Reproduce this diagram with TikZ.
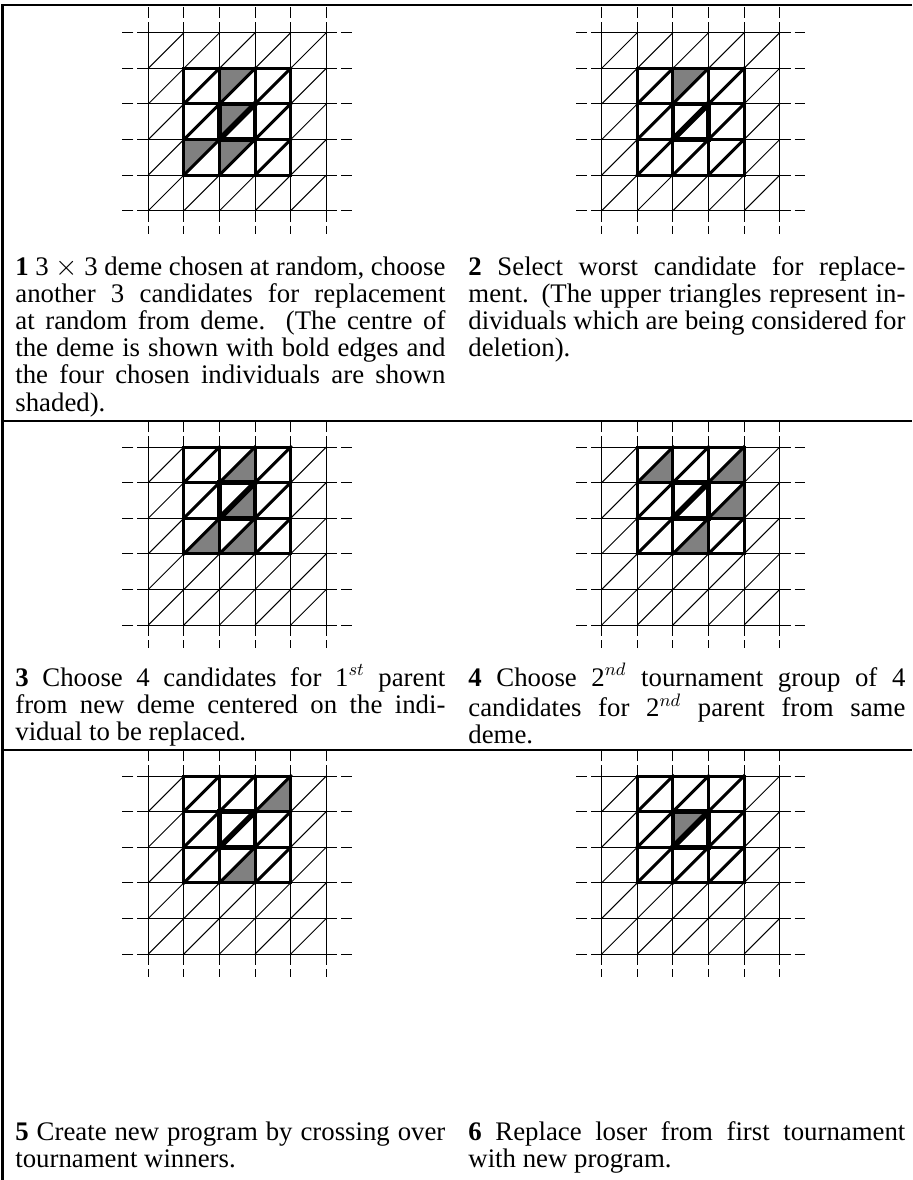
\documentclass[tikz,border=0pt]{standalone}
\usepackage{fontspec}
\setmainfont{Liberation Serif}
\newcommand{\capfont}{\fontsize{13.4}{13.6}\selectfont\tolerance=9999\hyphenpenalty=10000}
% one 5x5 population grid; #3 = top row of the deme, #4 = shaded cells col/row/side
\newcommand{\demepanel}[4]{%
  \begin{scope}[shift={(#1,#2)}, x=17.8pt, y=-17.8pt]
    \foreach \ci/\cj/\side in {#4}{
      \if u\side
        \fill[shade] (\ci,\cj) -- ++(1,0) -- ++(-1,1) -- cycle;
      \else
        \fill[shade] (\ci+1,\cj) -- ++(0,1) -- ++(-1,0) -- cycle;
      \fi}
    \foreach \k in {0,...,5}{
      \draw[thin line] (\k,0) -- (\k,5);
      \draw[thin line] (0,\k) -- (5,\k);
      \draw[stub] (\k,0) -- (\k,-0.76);
      \draw[stub] (\k,5) -- (\k,5.65);
      \draw[stub] (0,\k) -- (-0.74,\k);
      \draw[stub] (5,\k) -- (5.72,\k);}
    \foreach \ci in {0,...,4}
      \foreach \cj in {0,...,4}
        \draw[thin line] (\ci,\cj+1) -- (\ci+1,\cj);
    \draw[deme line] (1,#3) rectangle (4,#3+3);
    \foreach \k in {1,2}{
      \draw[deme line] (\k+1,#3) -- (\k+1,#3+3);
      \draw[deme line] (1,#3+\k) -- (4,#3+\k);}
    \foreach \ci in {1,2,3}
      \foreach \cj in {0,1,2}
        \draw[deme line] (\ci,#3+\cj+1) -- (\ci+1,#3+\cj);
    \draw[centre line] (2,#3+1) rectangle (3,#3+2);
    \draw[centre line, line width=2.8pt] (2,#3+2) -- (3,#3+1);
  \end{scope}}

\begin{document}
\begin{tikzpicture}[x=0.5pt, y=-0.5pt,
    thin line/.style={line width=0.5pt},
    stub/.style={line width=0.5pt, dash pattern=on 5.5pt off 2pt},
    deme line/.style={line width=1.5pt, line cap=rect},
    centre line/.style={line width=2.3pt, line cap=rect},
    shade/.style={fill=gray},
    rule/.style={line width=1.4pt},
    caption/.style={anchor=base west, inner sep=0pt, align=justify, font=\capfont}
  ]
  \useasboundingbox (0,0) rectangle (912,1180);
  \draw[rule] (1.8,5) -- (912,5);
  \draw[rule] (2.5,4.3) -- (2.5,1180);
  \draw[rule] (2.5,421) -- (912,421);
  \draw[rule] (2.5,750) -- (912,750);

  \demepanel{148.3}{32.7}{1}{2/1/u, 2/2/u, 1/3/u, 2/3/u}
  \demepanel{601.7}{32.7}{1}{2/1/u}
  \demepanel{148.3}{447}{0}{2/0/l, 2/1/l, 1/2/l, 2/2/l}
  \demepanel{601.7}{447}{0}{1/0/l, 3/0/l, 3/1/l, 2/2/l}
  \demepanel{148.3}{776}{0}{3/0/l, 2/2/l}
  \demepanel{601.7}{776}{0}{2/1/u}

  \node[caption, text width=215pt] (cap1) at (15,275) {%
    \textbf{1} 3 $\times$ 3 deme chosen at random, choose\linebreak
    another 3 candidates for replacement\linebreak
    at random from deme.  (The centre of\linebreak
    the deme is shown with bold edges and\linebreak
    the four chosen individuals are shown\linebreak
    shaded).};
  \node[caption, text width=218.5pt] (cap2) at (468,275) {%
    \textbf{2} Select worst candidate for replace-\linebreak
    ment. (The upper triangles represent in-\linebreak
    dividuals which are being considered for\linebreak
    deletion).};
  \node[caption, text width=215pt] (cap3) at (15,686) {%
    \textbf{3} Choose 4 candidates for 1$^{st}$ parent\linebreak
    from new deme centered on the indi-\linebreak
    vidual to be replaced.};
  \node[caption, text width=218.5pt] (cap4) at (468,686) {%
    \textbf{4} Choose 2$^{nd}$ tournament group of 4\linebreak
    candidates for 2$^{nd}$ parent from same\linebreak
    deme.};
  \node[caption, text width=215pt] (cap5) at (15,1140) {%
    \textbf{5} Create new program by crossing over\linebreak
    tournament winners.};
  \node[caption, text width=218.5pt] (cap6) at (468,1140) {%
    \textbf{6} Replace loser from first tournament\linebreak
    with new program.};
\end{tikzpicture}
\end{document}
